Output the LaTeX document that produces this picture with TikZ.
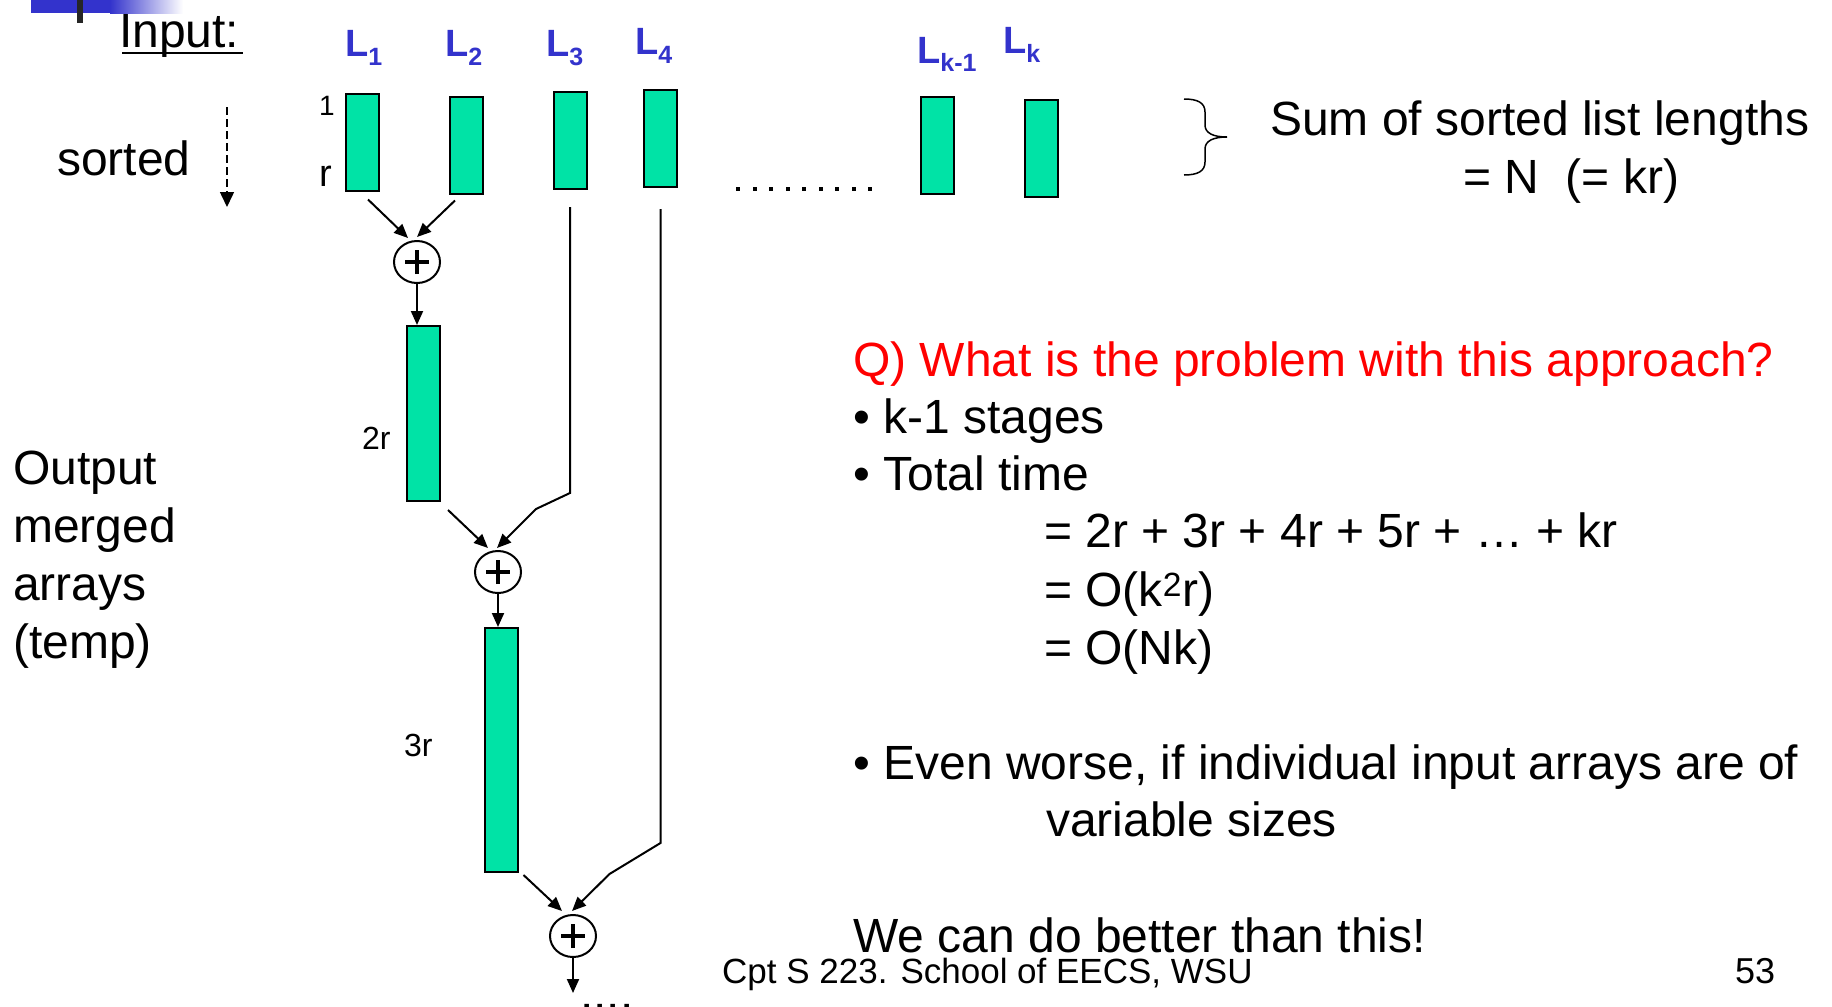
\documentclass[tikz,border=0pt]{standalone}
\usepackage{fontspec}
\setmainfont{Liberation Sans}
\usepackage{xcolor}
\usepackage{tikz}
\usetikzlibrary{arrows.meta, positioning, shapes.geometric}

\definecolor{listgreen}{RGB}{0,227,166}
\definecolor{labelblue}{RGB}{51,51,204}
\newcommand{\Lname}[2]{L\raisebox{#2}{\fontsize{25}{25}\selectfont #1}}

\begin{document}
\begin{tikzpicture}[x=1pt, y=-1pt,
    txt/.style={inner sep=0pt, anchor=base west, font=\fontsize{48}{58}\selectfont},
    numlbl/.style={inner sep=0pt, anchor=base west, font=\fontsize{32}{36}\selectfont},
    lname/.style={inner sep=0pt, anchor=base west, text=labelblue, font=\fontsize{38}{40}\selectfont\bfseries},
    list/.style={draw, line width=2pt, fill=listgreen, minimum width=33pt, minimum height=97pt, inner sep=0pt},
    merge/.style={ellipse, draw, line width=2pt, fill=white, minimum width=46pt, minimum height=42pt, inner sep=0pt,
        path picture={
            \draw[line width=4pt] ([xshift=-12pt]path picture bounding box.center) -- ([xshift=12pt]path picture bounding box.center);
            \draw[line width=4pt] ([yshift=-12pt]path picture bounding box.center) -- ([yshift=12pt]path picture bounding box.center);}},
    edge/.style={-{Triangle[length=14pt, width=12pt]}, line width=2pt}
]
    \fill[white] (0,0) rectangle (1832,1007);
    \useasboundingbox (0,0) rectangle (1832,1007);

    % slide corner
    \fill[labelblue] (31,0) rectangle (110,13);
    \shade[left color=labelblue, right color=white] (110,0) rectangle (183,13);
    \fill[black!85] (77,0) rectangle (83,23);

    % input lists
    \node[txt] (inp) at (119,47) {Input:};
    \draw[line width=2.5pt] ([xshift=3pt, yshift=-6pt]inp.base west) -- ([xshift=4pt, yshift=-6pt]inp.base east);
    \node[txt] (srt) at (57,175) {sorted};
    \coordinate (srt top) at (227,107);
    \coordinate (srt end) at (227,207);
    \draw[dashed, dash pattern=on 8pt off 4pt, line width=1.5pt, -{Triangle[length=15pt, width=14pt]}] (srt top) -- (srt end);

    \node[list] (l1) at (362.5,142) {};
    \node[list] (l2) at (466.5,145) {};
    \node[list] (l3) at (570,140.5) {};
    \node[list] (l4) at (660.5,138.5) {};
    \node[list] (lkm) at (937,145) {};
    \node[list] (lk) at (1041.5,148.5) {};

    \node[lname] (n1) at (345,56) {\Lname{1}{-9pt}};
    \node[lname] (n2) at (445,56) {\Lname{2}{-9pt}};
    \node[lname] (n3) at (546,56) {\Lname{3}{-9pt}};
    \node[lname] (n4) at (635,54) {\Lname{4}{-9pt}};
    \node[lname] (nkm) at (917,63) {\Lname{k-1}{-8pt}};
    \node[lname] (nk) at (1003,53) {\Lname{k}{-9pt}};

    \node[numlbl, font=\fontsize{28}{30}\selectfont] (one) at (319,115) {1};
    \node[numlbl, font=\fontsize{38}{40}\selectfont] (rr) at (319.5,186) {r};

    \foreach \i in {0,...,8}
        \fill (736+16.5*\i,187) rectangle ++(4,4);

    % merge stages
    \node[merge] (m1) at (417,262) {};
    \node[list, minimum height=175pt] (t2) at (423.5,413.5) {};
    \node[numlbl] (two) at (362,449) {2r};
    \node[merge] (m2) at (498,572) {};
    \node[list, minimum height=244pt] (t3) at (501,750) {};
    \node[numlbl] (three) at (404,756) {3r};
    \node[merge] (m3) at (573,936) {};
    \coordinate (cont) at (573,993);
    \node[txt] (more) at (580,1009) {....};

    \draw[edge] ([xshift=5.5pt, yshift=-8pt]l1.south) -- ([xshift=-9pt, yshift=2pt]m1.north);
    \draw[edge] ([xshift=-11.5pt, yshift=-6pt]l2.south) -- ([yshift=3pt]m1.north);
    \draw[edge] (m1) -- (m1 |- t2.north);

    \draw[edge] ([xshift=7pt, yshift=-8pt]t2.south east) -- ([xshift=-10pt, yshift=2pt]m2.north);
    \draw[edge] ([yshift=-17pt]l3.south) -- ++(0,286) -- ++(-34,16) -- ([xshift=-1pt, yshift=2pt]m2.north);
    \draw[edge] (m2) -- (m2 |- t3.north);

    \draw[edge] ([xshift=5pt, yshift=-2pt]t3.south east) -- ([xshift=-11pt, yshift=3pt]m3.north);
    \draw[edge] ([yshift=-21pt]l4.south) -- ++(0,634) -- ++(-51,31) -- ([xshift=-1pt, yshift=3pt]m3.north);
    \draw[edge] (m3) -- (cont);

    \node[txt] (outp) at (13,451) [anchor=north west, align=left] {Output\\merged\\arrays\\(temp)};

    % sum of lengths
    \draw[line width=1.5pt] (1184,99) .. controls (1198,99) and (1205,103) .. (1205,112) -- (1205,125)
        .. controls (1205,133) and (1213,137) .. (1227,137)
        .. controls (1213,137) and (1205,141) .. (1205,149) -- (1205,162)
        .. controls (1205,171) and (1198,175) .. (1184,175);
    \node[txt] (sum) at (1270,135) {Sum of sorted list lengths};
    \node[txt] (sumn) at (1463,193) {= N~~(= kr)};

    % question
    \node[txt, text=red] (q) at (853,376) {Q) What is the problem with this approach?};
    \node[txt] (b1) at (853,433) {• k-1 stages};
    \node[txt] (b2) at (853,490) {• Total time};
    \node[txt] (e1) at (1044,547) {= 2r + 3r + 4r + 5r + … + kr};
    \node[txt] (e2) at (1044,606) {= O(k\textsuperscript{2}r)};
    \node[txt] (e3) at (1044,664) {= O(Nk)};
    \node[txt] (b3) at (853,779) {• Even worse, if individual input arrays are of};
    \node[txt] (b3b) at (1046,836) {variable sizes};
    \node[txt] (better) at (853,952) {We can do better than this!};

    % footer
    \node[txt, font=\fontsize{35}{40}\selectfont] (foot) at (722,983) {Cpt S 223. School of EECS, WSU};
    \node[txt, font=\fontsize{36}{40}\selectfont] (page) at (1735,983) {53};
\end{tikzpicture}
\end{document}
